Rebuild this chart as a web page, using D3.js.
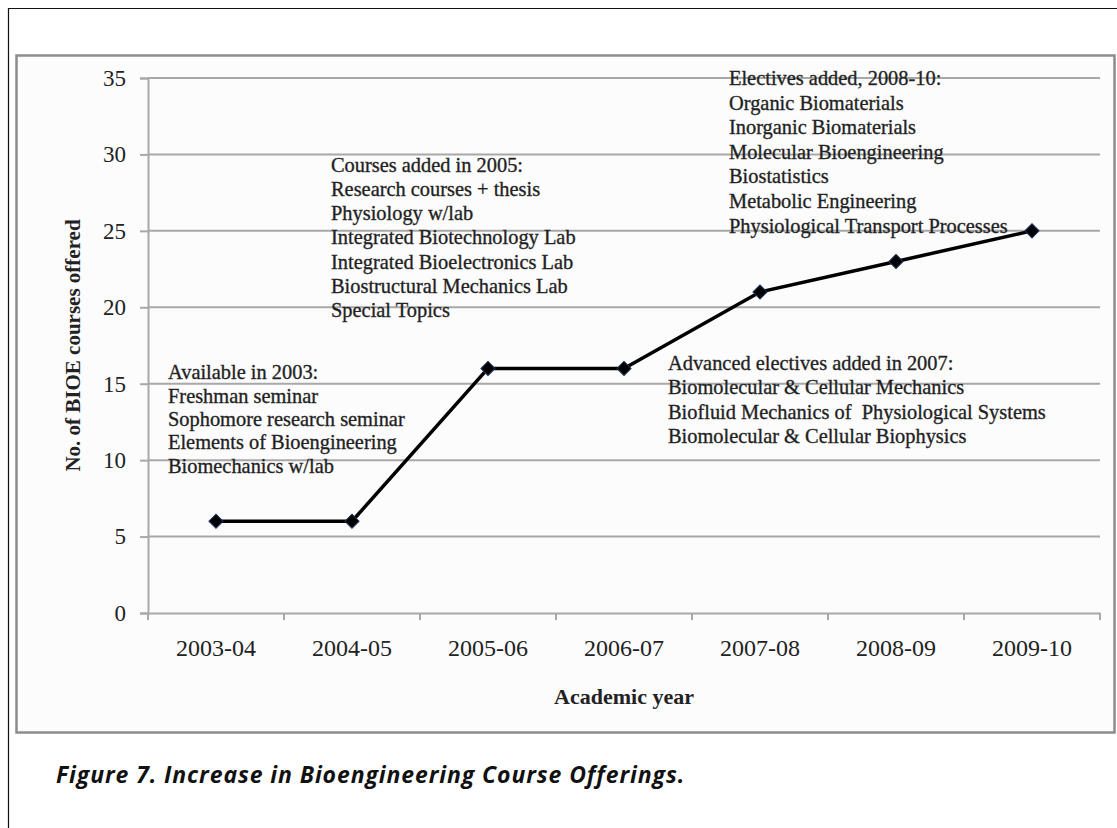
<!DOCTYPE html>
<html>
<head>
<meta charset="utf-8">
<script src="https://cdn.jsdelivr.net/npm/d3@7"></script>
<style>
  html, body { margin: 0; padding: 0; background: #ffffff; }
  svg { display: block; }
</style>
</head>
<body>
<svg id="chart" width="1117" height="828"></svg>
<script>
// ---- data ----
const categories = ["2003-04", "2004-05", "2005-06", "2006-07", "2007-08", "2008-09", "2009-10"];
const courses = [6, 6, 16, 16, 21, 23, 25];
const yTicks = [0, 5, 10, 15, 20, 25, 30, 35];

const note2003 = ["Available in 2003:", "Freshman seminar", "Sophomore research seminar", "Elements of Bioengineering", "Biomechanics w/lab"];
const note2005 = ["Courses added in 2005:", "Research courses + thesis", "Physiology w/lab", "Integrated Biotechnology Lab", "Integrated Bioelectronics Lab", "Biostructural Mechanics Lab", "Special Topics"];
const note2007 = ["Advanced electives added in 2007:", "Biomolecular & Cellular Mechanics", "Biofluid Mechanics of  Physiological Systems", "Biomolecular & Cellular Biophysics"];
const note2008 = ["Electives added, 2008-10:", "Organic Biomaterials", "Inorganic Biomaterials", "Molecular Bioengineering", "Biostatistics", "Metabolic Engineering", "Physiological Transport Processes"];

const xTitle = "Academic year";
const yTitle = "No. of BIOE courses offered";
const caption = "Figure 7. Increase in Bioengineering Course Offerings.";

// ---- layout ----
const svg = d3.select("#chart");
const plot = { left: 148, right: 1100, top: 78, bottom: 613 };

// outer frame (left and top edges visible)
svg.append("path")
  .attr("d", "M8.5,828 V8.5 H1117")
  .attr("fill", "none").attr("stroke", "#111").attr("stroke-width", 1.2);

// chart area box
svg.append("rect")
  .attr("x", 16.5).attr("y", 55.5).attr("width", 1098).attr("height", 677)
  .attr("fill", "#fcfcfc").attr("stroke", "#8c8c8c").attr("stroke-width", 2.5);

const x = d3.scaleBand().domain(categories).range([plot.left, plot.right]).padding(0);
const y = d3.scaleLinear().domain([0, 35]).range([plot.bottom, plot.top]);

const serif = "'Liberation Serif', 'Times New Roman', serif";

// gridlines
svg.append("g").selectAll("line").data(yTicks.filter(d => d > 0)).join("line")
  .attr("x1", plot.left).attr("x2", plot.right)
  .attr("y1", d => y(d)).attr("y2", d => y(d))
  .attr("stroke", "#a8a8a8").attr("stroke-width", 2);

// y axis
const yAxis = svg.append("g").attr("transform", `translate(${plot.left},0)`)
  .call(d3.axisLeft(y).tickValues(yTicks).tickSize(8).tickPadding(14));
yAxis.select(".domain").attr("stroke", "#a8a8a8").attr("stroke-width", 2);
yAxis.selectAll(".tick line").attr("stroke", "#a8a8a8").attr("stroke-width", 2);
yAxis.selectAll(".tick text").attr("font-family", serif).attr("font-size", 23).attr("fill", "#222");

// x axis
const xAxis = svg.append("g").attr("transform", `translate(0,${plot.bottom})`)
  .call(d3.axisBottom(x).tickSize(0).tickPadding(26));
xAxis.select(".domain").attr("stroke", "#a8a8a8").attr("stroke-width", 2);
xAxis.selectAll(".tick text").attr("font-family", serif).attr("font-size", 24).attr("fill", "#222");
// x tick marks at category boundaries
const bounds = categories.map(c => x(c)).concat([x(categories[categories.length - 1]) + x.bandwidth()]);
svg.append("g").selectAll("line").data(bounds).join("line")
  .attr("x1", d => d).attr("x2", d => d)
  .attr("y1", plot.bottom).attr("y2", plot.bottom + 7)
  .attr("stroke", "#a8a8a8").attr("stroke-width", 2);

// axis titles
svg.append("text").text(xTitle)
  .attr("x", (plot.left + plot.right) / 2).attr("y", 704)
  .attr("text-anchor", "middle").attr("font-family", serif).attr("font-weight", "bold")
  .attr("font-size", 22).attr("fill", "#222");
svg.append("text").text(yTitle)
  .attr("transform", `translate(80,${(plot.top + plot.bottom) / 2}) rotate(-90)`)
  .attr("text-anchor", "middle").attr("font-family", serif).attr("font-weight", "bold")
  .attr("font-size", 21).attr("fill", "#222");

// line
const pts = categories.map((c, i) => ({ c, v: courses[i] }));
const cx = d => x(d.c) + x.bandwidth() / 2;
svg.append("path").datum(pts)
  .attr("d", d3.line().x(cx).y(d => y(d.v)))
  .attr("fill", "none").attr("stroke", "#000").attr("stroke-width", 3.5).attr("stroke-linejoin", "round");

svg.append("g").selectAll("path").data(pts).join("path")
  .attr("d", d3.symbol(d3.symbolSquare, 100))
  .attr("transform", d => `translate(${cx(d)},${y(d.v)}) rotate(45)`)
  .attr("fill", "#000").attr("stroke", "#1c2f5a").attr("stroke-width", 1);

// annotations
function note(lines, cat, dx, firstVal, lh) {
  const t = svg.append("text")
    .attr("font-family", serif).attr("font-size", 20.4).attr("fill", "#1e1e1e")
    .attr("stroke", "#2a2a2a").attr("stroke-width", 0.35)
    .attr("xml:space", "preserve");
  lines.forEach((s, i) => {
    t.append("tspan").attr("x", x(cat) + dx).attr("y", y(firstVal) + i * lh).text(s);
  });
}
note(note2003, "2003-04", 20, 15.3, 23.4);
note(note2005, "2004-05", 47, 28.88, 24.3);
note(note2007, "2006-07", 112, 15.9, 24.3);
note(note2008, "2007-08", 37, 34.54, 24.6);

// caption
svg.append("text").text(caption)
  .attr("x", 56).attr("y", 783)
  .attr("font-family", "'Open Sans', sans-serif").attr("font-style", "italic").attr("font-weight", 700)
  .attr("font-size", 23).attr("letter-spacing", 0.9).attr("fill", "#111");
</script>
</body>
</html>
